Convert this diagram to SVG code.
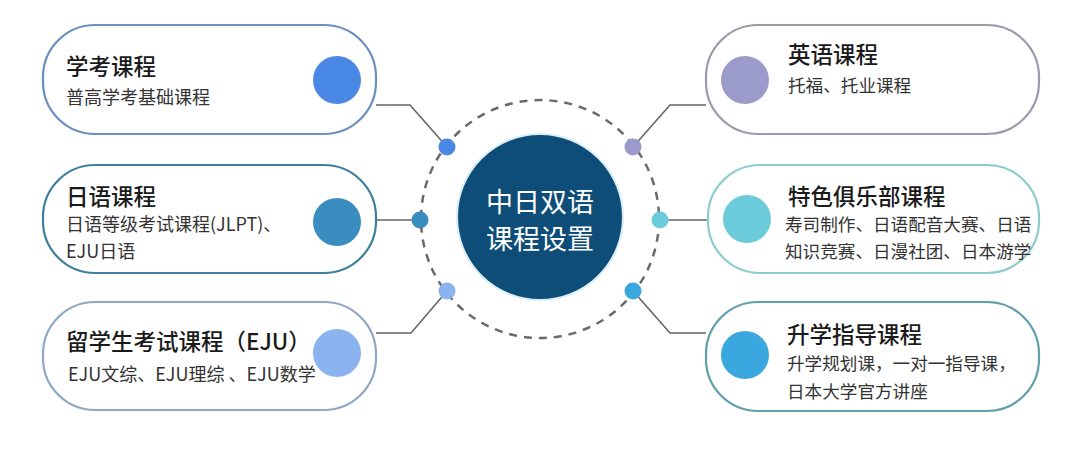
<svg xmlns="http://www.w3.org/2000/svg" width="1080" height="455" viewBox="0 0 1080 455">
<style>
.box{fill:#ffffff;stroke-width:2.2}
.title{font-family:"Noto Sans CJK SC","Noto Sans",sans-serif;font-size:22.5px;font-weight:500;fill:#1a1a1a}
.sub{font-family:"Noto Sans CJK SC","Noto Sans",sans-serif;font-size:18px;fill:#333333}
.subr{font-family:"Noto Sans CJK SC","Noto Sans",sans-serif;font-size:17.6px;fill:#333333}
.conn{fill:none;stroke:#666666;stroke-width:1.6}
.center{font-family:"Noto Sans CJK SC","Noto Sans",sans-serif;font-size:27px;fill:#ffffff;text-anchor:middle}
</style>
<rect width="1080" height="455" fill="#ffffff"/>
<g id="connectors">
<circle cx="540" cy="219" r="119" fill="none" stroke="#6a6a6a" stroke-width="2.5" stroke-dasharray="8 7"/>
<polyline class="conn" points="376,105 410,105 447,147"/>
<polyline class="conn" points="376,220 420,220"/>
<polyline class="conn" points="376,333 411,333 447,291"/>
<polyline class="conn" points="706,105 670,105 633,147"/>
<polyline class="conn" points="708,220 660,220"/>
<polyline class="conn" points="706,333 670,333 633,291"/>
<circle cx="447" cy="147" r="8.5" fill="#4a88e6"/>
<circle cx="420" cy="220" r="8.5" fill="#3a8dbf"/>
<circle cx="447" cy="291" r="8.5" fill="#8ab3ef"/>
<circle cx="633" cy="147" r="8.5" fill="#9a9acb"/>
<circle cx="660" cy="220" r="8.5" fill="#6ccbdb"/>
<circle cx="633" cy="291" r="8.5" fill="#3aa7de"/>
</g>
<g id="center">
<circle cx="540" cy="217" r="83" fill="#0e4d77" stroke="#d8eef8" stroke-width="2"/>
<text class="center" x="540" y="212">中日双语</text>
<text class="center" x="540" y="249">课程设置</text>
</g>
<g id="node-xuekao">
<rect class="box" x="43" y="25" width="333" height="109" rx="52" stroke="#6a8fc0"/>
<circle cx="337" cy="80" r="24" fill="#4a88e6"/>
<text class="title" x="66" y="75">学考课程</text>
<text class="sub" x="66" y="104">普高学考基础课程</text>
</g>
<g id="node-riyu">
<rect class="box" x="43" y="165" width="333" height="108" rx="52" stroke="#3f7f9e"/>
<circle cx="337" cy="222" r="24" fill="#3a8dbf"/>
<text class="title" x="66" y="205">日语课程</text>
<text class="sub" x="66" y="231">日语等级考试课程(JLPT)、</text>
<text class="sub" x="66" y="258">EJU日语</text>
</g>
<g id="node-liuxue">
<rect class="box" x="43" y="302" width="333" height="108" rx="52" stroke="#8ea7c4"/>
<circle cx="337" cy="353" r="24" fill="#8ab3ef"/>
<text class="title" x="66" y="350">留学生考试课程（EJU）</text>
<text class="sub" x="68" y="381">EJU文综、EJU理综 、EJU数学</text>
</g>
<g id="node-yingyu">
<rect class="box" x="706" y="25" width="333" height="109" rx="52" stroke="#9a9aac"/>
<circle cx="745" cy="80" r="24" fill="#9a9acb"/>
<text class="title" x="788" y="63">英语课程</text>
<text class="subr" x="788" y="92">托福、托业课程</text>
</g>
<g id="node-tese">
<rect class="box" x="708" y="165" width="331" height="108" rx="52" stroke="#8ccbcf"/>
<circle cx="747" cy="219" r="24" fill="#6ccbdb"/>
<text class="title" x="788" y="205">特色俱乐部课程</text>
<text class="subr" x="785" y="231">寿司制作、日语配音大赛、日语</text>
<text class="subr" x="785" y="258">知识竞赛、日漫社团、日本游学</text>
</g>
<g id="node-shengxue">
<rect class="box" x="706" y="302" width="333" height="109" rx="52" stroke="#5d9fab"/>
<circle cx="745" cy="355" r="24" fill="#3aa7de"/>
<text class="title" x="787" y="343">升学指导课程</text>
<text class="subr" x="787" y="370">升学规划课，一对一指导课，</text>
<text class="subr" x="787" y="398">日本大学官方讲座</text>
</g>
</svg>
